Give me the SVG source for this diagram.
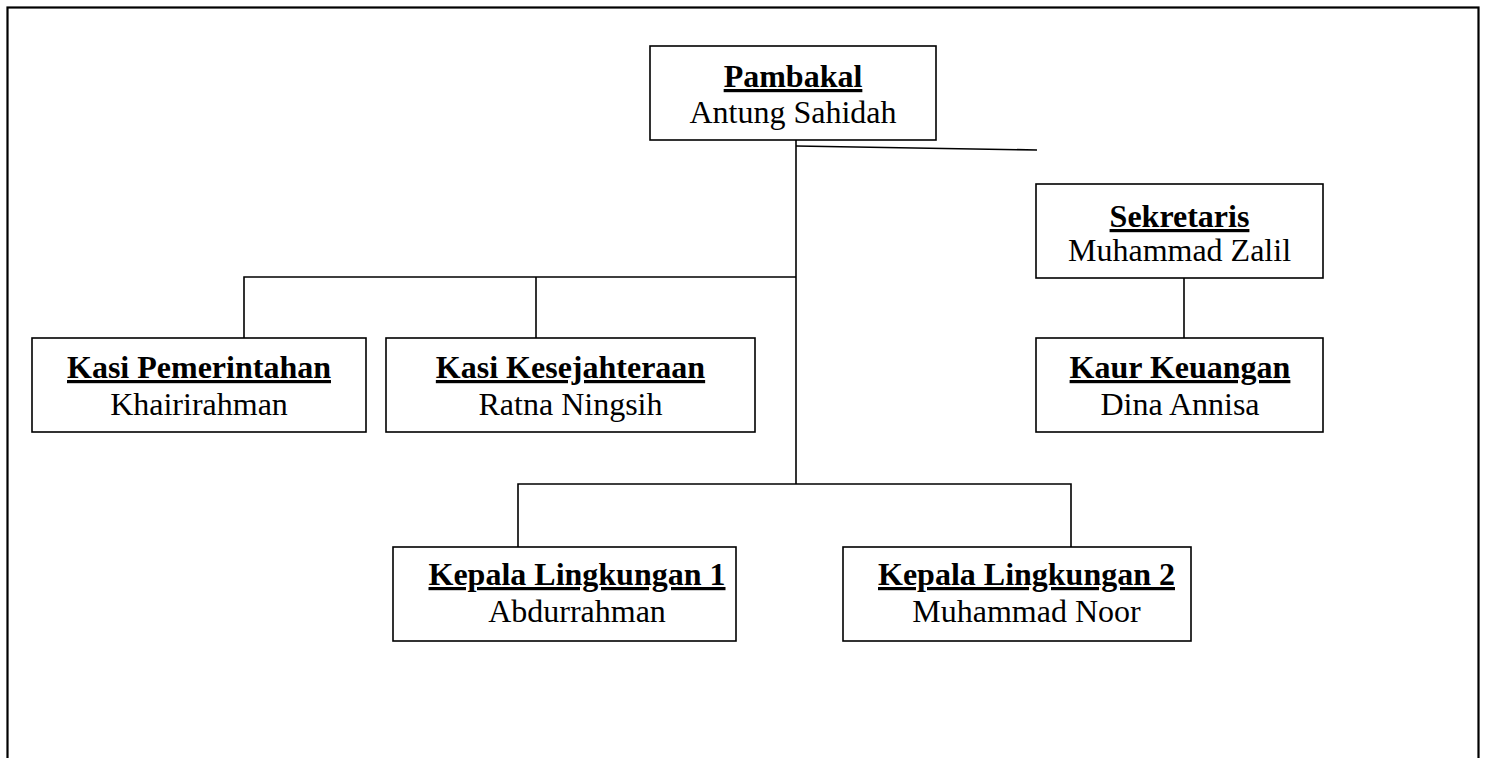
<svg xmlns="http://www.w3.org/2000/svg" width="1487" height="758" viewBox="0 0 1487 758">
<style>
.box{fill:#fff;stroke:#000;stroke-width:1.6}
.t{font-family:"Liberation Serif","Times New Roman",serif;font-size:32px;fill:#000;text-anchor:middle}
.b{font-weight:bold;text-decoration:underline}
.c{fill:none;stroke:#000;stroke-width:1.6}
</style>
<rect x="0" y="0" width="1487" height="758" fill="#fff"/>
<rect x="7.5" y="7.5" width="1471" height="800" fill="none" stroke="#000" stroke-width="2.2"/>
<g id="connectors">
<line class="c" x1="796" y1="140" x2="796" y2="484"/>
<line class="c" x1="796" y1="146" x2="1037" y2="150"/>
<polyline class="c" points="244,338 244,277 796,277"/>
<line class="c" x1="536" y1="277" x2="536" y2="338"/>
<polyline class="c" points="518,547 518,484 1071,484 1071,547"/>
<line class="c" x1="1184" y1="278" x2="1184" y2="338"/>
</g>
<g id="pambakal">
<rect class="box" x="650" y="46" width="286" height="94"/>
<text class="t b" x="793" y="87">Pambakal</text>
<text class="t" x="793" y="123">Antung Sahidah</text>
</g>
<g id="sekretaris">
<rect class="box" x="1036" y="184" width="287" height="94"/>
<text class="t b" x="1179.5" y="227">Sekretaris</text>
<text class="t" x="1179.5" y="261">Muhammad Zalil</text>
</g>
<g id="kasi-pemerintahan">
<rect class="box" x="32" y="338" width="334" height="94"/>
<text class="t b" x="199" y="378">Kasi Pemerintahan</text>
<text class="t" x="199" y="415">Khairirahman</text>
</g>
<g id="kasi-kesejahteraan">
<rect class="box" x="386" y="338" width="369" height="94"/>
<text class="t b" x="570.5" y="378">Kasi Kesejahteraan</text>
<text class="t" x="570.5" y="415">Ratna Ningsih</text>
</g>
<g id="kaur-keuangan">
<rect class="box" x="1036" y="338" width="287" height="94"/>
<text class="t b" x="1180" y="378">Kaur Keuangan</text>
<text class="t" x="1180" y="415">Dina Annisa</text>
</g>
<g id="kepala-lingkungan-1">
<rect class="box" x="393" y="547" width="343" height="94"/>
<text class="t b" x="577" y="585">Kepala Lingkungan 1</text>
<text class="t" x="577" y="622">Abdurrahman</text>
</g>
<g id="kepala-lingkungan-2">
<rect class="box" x="843" y="547" width="348" height="94"/>
<text class="t b" x="1026.5" y="585">Kepala Lingkungan 2</text>
<text class="t" x="1026.5" y="622">Muhammad Noor</text>
</g>
</svg>
